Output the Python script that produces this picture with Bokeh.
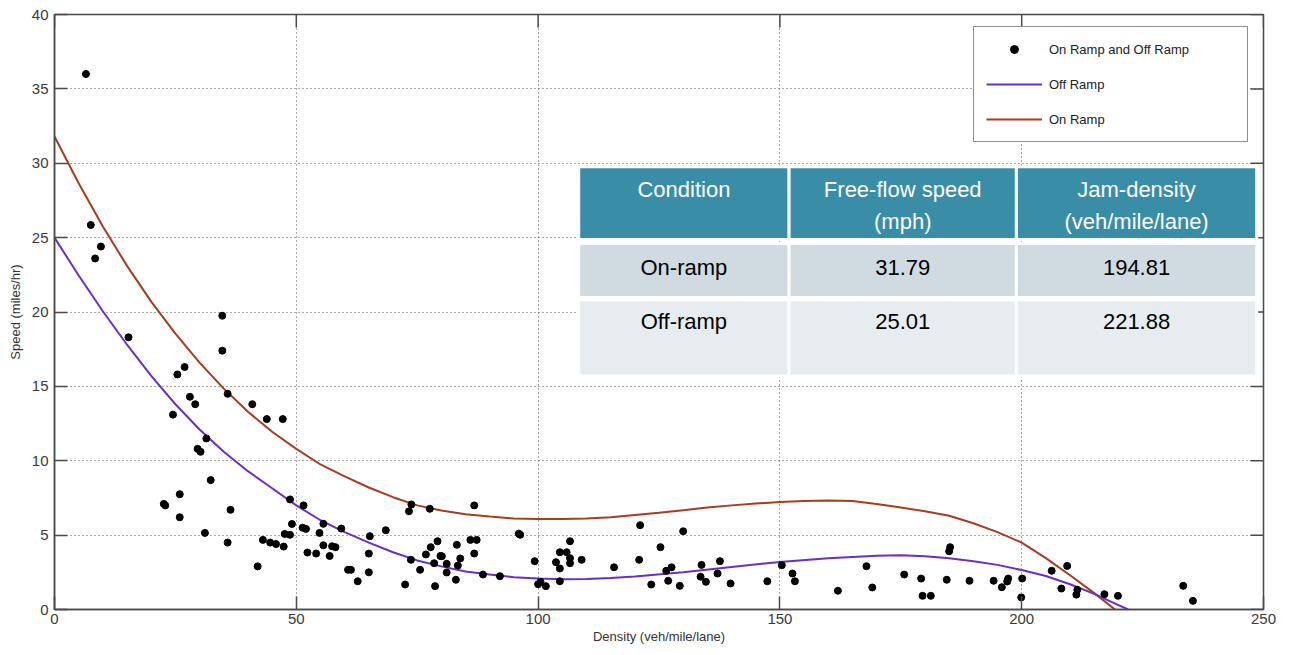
from bokeh.plotting import figure
from bokeh.models import Range1d, FixedTicker, Legend, LegendItem
from bokeh.core.properties import value
from bokeh.embed import file_html
from bokeh.resources import INLINE

# ---------------- data ----------------
pts_x = [6.5, 7.5, 9.6, 8.4, 34.7, 15.3, 34.7, 25.4, 26.9, 28.0, 29.1, 24.5, 35.8, 40.9,
         43.9, 47.2, 31.4, 29.6, 30.2, 32.3, 22.6, 22.9, 25.9, 25.9, 36.4, 31.1, 35.8,
         42.0, 43.1, 44.6, 45.8, 47.4, 47.6, 48.7, 48.7, 49.1, 51.5, 51.3, 52.0, 52.3,
         54.1, 54.8, 55.6, 55.6, 56.9, 57.4, 58.1, 59.3, 60.7, 61.3, 62.7, 65.0, 65.2,
         65.0, 68.5, 72.5, 73.3, 73.8, 73.7, 75.6, 76.8, 77.6, 77.8, 78.5, 78.7, 79.2,
         79.8, 80.1, 81.1, 81.1, 83.0, 83.2, 83.4, 83.9, 86.8, 86.0, 87.3, 86.8, 88.6,
         92.1, 96.0, 96.3, 99.3, 100.0, 100.5, 101.6, 103.7, 104.5, 104.5, 104.5, 105.9,
         106.6, 106.6, 106.6, 109.0, 115.7, 120.9, 121.1, 123.4, 125.3, 126.5, 126.9,
         127.6, 129.3, 130.0, 133.6, 133.8, 134.7, 137.1, 137.6, 139.8, 147.4, 150.4,
         152.6, 153.1, 162.0, 167.9, 169.1, 175.7, 179.2, 179.5, 181.2, 184.5, 185.0,
         185.2, 189.2, 194.2, 195.9, 197.0, 197.2, 200.1, 199.9, 206.2, 208.2, 209.4,
         211.3, 211.5, 217.1, 219.9, 233.4, 235.4]
pts_y = [36.0, 25.85, 24.4, 23.6, 19.75, 18.3, 17.4, 15.8, 16.3, 14.3, 13.8, 13.1, 14.5, 13.8,
         12.8, 12.8, 11.5, 10.8, 10.6, 8.7, 7.1, 7.0, 7.75, 6.2, 6.7, 5.15, 4.5,
         2.9, 4.68, 4.5, 4.4, 4.23, 5.08, 5.02, 7.4, 5.75, 7.0, 5.5, 5.42, 3.83,
         3.76, 5.15, 4.32, 5.76, 3.6, 4.25, 4.19, 5.44, 2.67, 2.67, 1.9, 3.76, 4.93,
         2.5, 5.33, 1.68, 6.6, 7.06, 3.34, 2.67, 3.7, 6.77, 4.19, 3.11, 1.57, 4.59,
         3.6, 3.58, 3.07, 2.49, 2.0, 4.35, 2.96, 3.43, 7.0, 4.68, 4.68, 3.76, 2.35,
         2.24, 5.1, 5.02, 3.25, 1.7, 1.86, 1.57, 3.18, 3.85, 2.76, 1.9, 3.85,
         4.59, 3.45, 3.11, 3.34, 2.84, 3.34, 5.67, 1.68, 4.19, 2.6, 1.93,
         2.84, 1.59, 5.26, 2.2, 3.0, 1.86, 2.42, 3.25, 1.75, 1.9, 2.98,
         2.42, 1.9, 1.26, 2.91, 1.48, 2.35, 2.08, 0.92, 0.92, 2.0, 3.92,
         4.19, 1.93, 1.93, 1.5, 1.88, 2.08, 2.08, 0.81, 2.6, 1.41, 2.93,
         1.0, 1.32, 1.03, 0.92, 1.59, 0.58]

on_ramp_x = [0, 5, 10, 15, 20, 25, 30, 35, 40, 45, 50, 55, 60, 65, 70, 75, 80, 85, 90, 95,
             100, 105, 110, 115, 120, 125, 130, 135, 140, 145, 150, 155, 160, 165, 170, 175,
             180, 185, 190, 195, 200, 205, 210, 215, 219.3]
on_ramp_y = [31.8, 28.65, 25.75, 23.1, 20.7, 18.55, 16.6, 14.85, 13.3, 11.95, 10.8, 9.75,
             8.95, 8.2, 7.55, 7.0, 6.65, 6.4, 6.25, 6.12, 6.08, 6.08, 6.12, 6.2, 6.35, 6.5,
             6.68, 6.85, 7.0, 7.12, 7.22, 7.3, 7.33, 7.3, 7.1, 6.85, 6.6, 6.3, 5.8, 5.2,
             4.5, 3.45, 2.3, 1.1, 0.0]

off_ramp_x = [0, 5, 10, 15, 20, 25, 30, 35, 40, 45, 50, 55, 60, 65, 70, 75, 80, 85, 90, 95,
              100, 105, 110, 115, 120, 130, 140, 150, 160, 170, 175, 180, 185, 190, 195,
              200, 205, 210, 215, 219, 222]
off_ramp_y = [25.0, 22.45, 20.05, 17.8, 15.7, 13.8, 12.1, 10.6, 9.3, 8.15, 7.0, 6.0, 5.2,
              4.5, 3.85, 3.3, 2.9, 2.55, 2.35, 2.17, 2.08, 2.03, 2.05, 2.12, 2.22, 2.5, 2.85,
              3.2, 3.45, 3.62, 3.65, 3.58, 3.45, 3.25, 3.0, 2.65, 2.25, 1.7, 1.05, 0.45, 0.0]

x_ticks = [0, 50, 100, 150, 200, 250]
y_ticks = [0, 5, 10, 15, 20, 25, 30, 35, 40]

table_header = ["Condition", "Free-flow speed\n(mph)", "Jam-density\n(veh/mile/lane)"]
table_rows = [["On-ramp", "31.79", "194.81"],
              ["Off-ramp", "25.01", "221.88"]]

# ---------------- figure ----------------
FONT = "Liberation Sans"
AX = "#4a4a4a"
X0, X1, Y0, Y1 = 0, 250, 0, 40

p = figure(width=1282, height=647, output_backend="svg", toolbar_location=None,
           x_range=Range1d(X0, X1), y_range=Range1d(Y0, Y1),
           min_border_left=54, min_border_right=19, min_border_top=14, min_border_bottom=38)
p.background_fill_color = "white"
p.border_fill_color = "white"
p.outline_line_color = AX
p.outline_line_width = 1.5

for ax, ticks in ((p.xaxis[0], x_ticks), (p.yaxis[0], y_ticks)):
    ax.ticker = FixedTicker(ticks=ticks)
    ax.major_tick_in = 13
    ax.major_tick_out = 0
    ax.minor_tick_line_color = None
    ax.axis_line_color = AX
    ax.axis_line_width = 1.5
    ax.major_tick_line_color = AX
    ax.major_tick_line_width = 1.5
    ax.major_label_text_font = FONT
    ax.major_label_text_font_size = "15px"
    ax.major_label_text_color = "#3a3a3a"
    ax.axis_label_text_font = FONT
    ax.axis_label_text_font_size = "13px"
    ax.axis_label_text_font_style = "normal"
    ax.axis_label_text_color = "#333333"

p.xaxis[0].axis_label = "Density (veh/mile/lane)"
p.yaxis[0].axis_label = "Speed (miles/hr)"
p.xaxis[0].major_label_standoff = 4
p.xaxis[0].axis_label_standoff = 2
p.yaxis[0].major_label_standoff = 6
p.yaxis[0].axis_label_standoff = 6

p.xgrid.ticker = FixedTicker(ticks=x_ticks)
p.ygrid.ticker = FixedTicker(ticks=y_ticks)
for g in (p.xgrid[0], p.ygrid[0]):
    g.grid_line_color = "#555555"
    g.grid_line_dash = "1 3"
    g.grid_line_width = 1

# inward ticks on the top and right borders (box style)
tick_len_y = 13 / 14.88
tick_len_x = 13 / 4.83
p.segment(x0=x_ticks, x1=x_ticks, y0=[Y1] * len(x_ticks),
          y1=[Y1 - tick_len_y] * len(x_ticks), line_color=AX, line_width=1.5)
p.segment(x0=[X1] * len(y_ticks), x1=[X1 - tick_len_x] * len(y_ticks),
          y0=y_ticks, y1=y_ticks, line_color=AX, line_width=1.5)

# ---------------- marks ----------------
r_on = p.line(on_ramp_x, on_ramp_y, line_color="#a63d20", line_width=2)
r_off = p.line(off_ramp_x, off_ramp_y, line_color="#6a2fc4", line_width=2)
r_pts = p.scatter(pts_x, pts_y, size=7, fill_color="black", line_color="black")

# ---------------- table overlay (data units) ----------------
col_edges = [108.4, 151.9, 198.9, 248.6]
row_edges = [(29.77, 24.87), (24.6, 20.97), (20.83, 15.7)]
row_fill = ["#3a8da6", "#cfdbe1", "#e6ecef"]
qx0, qx1, qt, qb, qc = [], [], [], [], []
for ri, (top, bot) in enumerate(row_edges):
    for ci in range(3):
        qx0.append(col_edges[ci]); qx1.append(col_edges[ci + 1])
        qt.append(top); qb.append(bot); qc.append(row_fill[ri])
p.quad(left=qx0, right=qx1, top=qt, bottom=qb, fill_color=qc, line_color="white",
       line_width=3)

centers = [(col_edges[i] + col_edges[i + 1]) / 2 for i in range(3)]
hx, hy, ht = [], [], []
for ci, lab in enumerate(table_header):
    lines = lab.split("\n")
    if len(lines) == 1:
        hx.append(centers[ci]); hy.append(28.23); ht.append(lines[0])
    else:
        hx += [centers[ci], centers[ci]]; hy += [28.23, 26.08]; ht += lines
p.text(hx, hy, text=ht, text_font=value(FONT), text_font_size="22px",
       text_color="white", text_align="center", text_baseline="middle")

bx, by, bt = [], [], []
for ri, (row, yy) in enumerate(zip(table_rows, [22.98, 19.35])):
    for ci, t in enumerate(row):
        bx.append(centers[ci]); by.append(yy); bt.append(t)
p.text(bx, by, text=bt, text_font=value(FONT), text_font_size="22px",
       text_color="black", text_align="center", text_baseline="middle")

# ---------------- legend ----------------
legend = Legend(items=[LegendItem(label="On Ramp and Off Ramp", renderers=[r_pts]),
                       LegendItem(label="Off Ramp", renderers=[r_off]),
                       LegendItem(label="On Ramp", renderers=[r_on])],
                location=(919, 467), orientation="vertical")
legend.label_text_font = FONT
legend.label_text_font_size = "13px"
legend.label_text_color = "#222222"
legend.label_width = 186
legend.label_height = 20
legend.glyph_height = 20
legend.glyph_width = 56
legend.label_standoff = 7
legend.spacing = 15
legend.padding = 12
legend.margin = 0
legend.border_line_color = "#222222"
legend.border_line_width = 1
legend.background_fill_color = "white"
legend.background_fill_alpha = 1
p.add_layout(legend, "center")

open("out.html", "w").write(file_html(p, INLINE))
